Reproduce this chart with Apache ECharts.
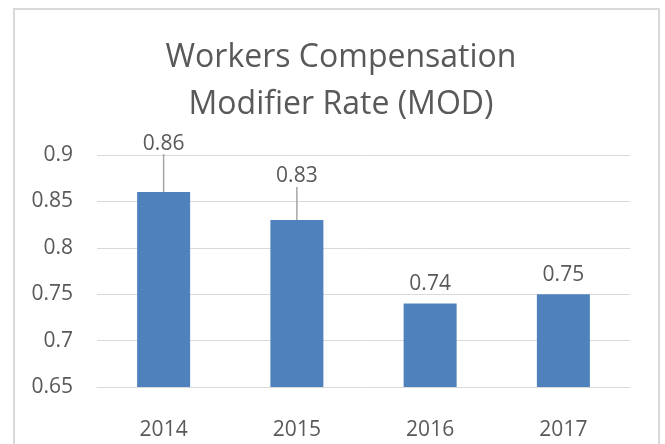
<!DOCTYPE html>
<html>
<head>
<meta charset="utf-8">
<script src="https://cdn.jsdelivr.net/npm/echarts@6/dist/echarts.min.js"></script>
<style>
  html, body { margin: 0; padding: 0; background: #ffffff; }
  #chart { width: 665px; height: 444px; }
</style>
</head>
<body>
<div id="chart"></div>
<script>
// Chart data
const years = ['2014', '2015', '2016', '2017'];
const modRates = [0.86, 0.83, 0.74, 0.75];
// Extra lift (px) for labels that sit higher and get a leader line
const labelLift = [29, 24, 0, 0];
const yTicks = { min: 0.65, max: 0.9, step: 0.05 };

const FONT = '"Open Sans", sans-serif';
const TEXT = '#595959';

const chart = echarts.init(document.getElementById('chart'), null, { renderer: 'canvas' });

const barData = modRates.map((v, i) => ({
  value: v,
  labelLine: { show: labelLift[i] > 0 }
}));

chart.setOption({
  animation: false,
  backgroundColor: '#ffffff',
  graphic: [{
    type: 'rect',
    shape: { x: 14, y: 9, width: 645, height: 470 },
    style: { fill: 'none', stroke: '#d9d9d9', lineWidth: 2 },
    silent: true
  }],
  title: {
    text: 'Workers Compensation\nModifier Rate (MOD)',
    left: 336,
    top: 29,
    textAlign: 'center',
    textStyle: {
      fontFamily: FONT,
      fontWeight: 'normal',
      fontSize: 32,
      lineHeight: 47,
      color: TEXT
    }
  },
  grid: { left: 97, right: 35, top: 155, bottom: 57 },
  xAxis: {
    type: 'category',
    data: years,
    axisLine: { show: true, lineStyle: { color: '#d9d9d9', width: 1 } },
    axisTick: { show: false },
    axisLabel: { color: TEXT, fontFamily: FONT, fontSize: 21, margin: 33 }
  },
  yAxis: {
    type: 'value',
    min: yTicks.min,
    max: yTicks.max,
    interval: yTicks.step,
    axisLine: { show: false },
    axisTick: { show: false },
    splitLine: { lineStyle: { color: '#d9d9d9', width: 1 } },
    axisLabel: {
      color: TEXT, fontFamily: FONT, fontSize: 21, margin: 24,
      formatter: v => String(parseFloat(v.toFixed(2)))
    }
  },
  series: [{
    type: 'bar',
    data: barData,
    barWidth: 53,
    itemStyle: { color: '#4f81bd' },
    label: {
      show: true,
      position: 'top',
      distance: 9,
      color: TEXT,
      fontFamily: FONT,
      fontSize: 21,
      formatter: p => String(p.value)
    },
    labelLine: {
      lineStyle: { color: '#a6a6a6', width: 1.5 }
    },
    labelLayout: p => ({ dy: -labelLift[p.dataIndex] })
  }]
});
</script>
</body>
</html>
